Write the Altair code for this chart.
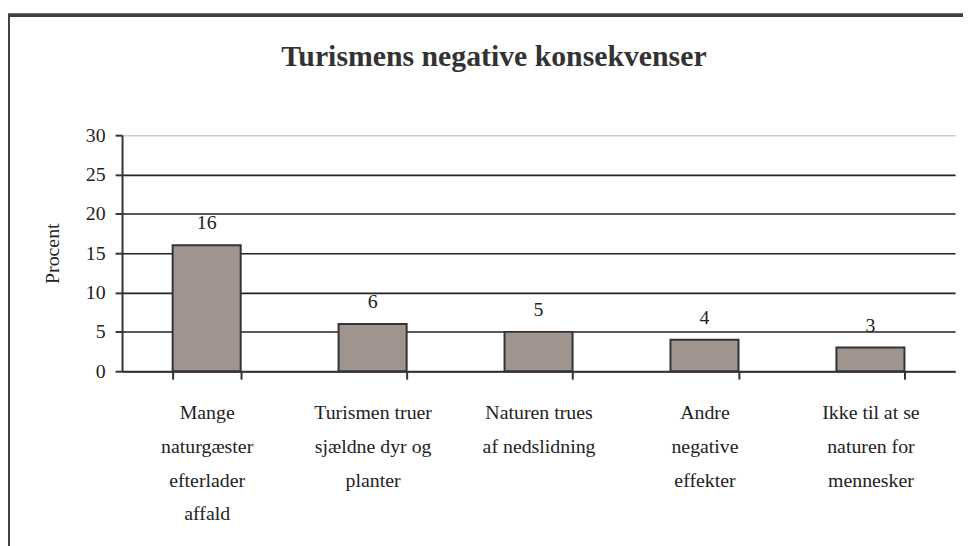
import altair as alt
import pandas as pd

categories = [
    "Mange naturgæster efterlader affald",
    "Turismen truer sjældne dyr og planter",
    "Naturen trues af nedslidning",
    "Andre negative effekter",
    "Ikke til at se naturen for mennesker",
]
label_lines = [
    ["Mange", "naturgæster", "efterlader", "affald"],
    ["Turismen truer", "sjældne dyr og", "planter"],
    ["Naturen trues", "af nedslidning"],
    ["Andre", "negative", "effekter"],
    ["Ikke til at se", "naturen for", "mennesker"],
]
values = [16, 6, 5, 4, 3]
y_ticks = [0, 5, 10, 15, 20, 25, 30]

df = pd.DataFrame({"cat": categories, "val": values})

label_map = {c: l for c, l in zip(categories, label_lines)}
label_expr = "{" + ",".join(f'"{c}": {l!r}'.replace("'", '"') for c, l in label_map.items()) + "}[datum.value]"

FONT = "Liberation Serif"

x = alt.X(
    "cat:N",
    sort=categories,
    title=None,
    scale=alt.Scale(paddingInner=0.59, paddingOuter=0.305),
    axis=alt.Axis(
        labelExpr=label_expr,
        labelAngle=0,
        labelFont=FONT,
        labelFontSize=20,
        labelColor="#222222",
        labelLineHeight=34,
        labelPadding=34,
        labelBaseline="middle",
        labelLimit=300,
        tickBand="extent",
        tickSize=8,
        tickWidth=2,
        tickColor="#333333",
        domainColor="#333333",
        domainWidth=2,
        grid=False,
    ),
)

y = alt.Y(
    "val:Q",
    title="Procent",
    scale=alt.Scale(domain=[0, 30], nice=False),
    axis=alt.Axis(
        values=y_ticks,
        labelFont=FONT,
        labelFontSize=20,
        labelColor="#222222",
        labelPadding=10,
        titleFont=FONT,
        titleFontSize=20,
        titleFontWeight="normal",
        titleColor="#222222",
        titlePadding=23,
        tickSize=7,
        tickWidth=2,
        tickColor="#333333",
        domainColor="#333333",
        domainWidth=2,
        grid=True,
        gridColor={"condition": {"test": "datum.value == 30", "value": "#cccccc"}, "value": "#222222"},
        gridWidth=1.6,
    ),
)

base = alt.Chart(df).encode(x=x, y=y)

bars = base.mark_bar(color="#A0948F", stroke="#333333", strokeWidth=2)

text = base.mark_text(
    dy=-22, font=FONT, fontSize=20, color="#222222"
).encode(text="val:Q")

frame_left = alt.Chart(df).mark_rule(color="#404040", strokeWidth=3).encode(
    x=alt.value(-115), y=alt.value(-121), y2=alt.value(500)
)
frame_top = alt.Chart(df).mark_rule(color="#404040", strokeWidth=3).encode(
    x=alt.value(-116), x2=alt.value(900), y=alt.value(-121)
)

chart = alt.layer(bars, text, frame_left, frame_top).properties(
    width=840,
    height=238,
    autosize=alt.AutoSizeParams(type="none"),
    padding={"left": 115, "top": 126, "right": 8, "bottom": 174},
    title=alt.TitleParams(
        "Turismens negative konsekvenser",
        font=FONT,
        fontSize=30,
        fontWeight="bold",
        color="#333333",
        anchor="middle",
        offset=-59,
        dx=-45,
    ),
).configure_view(stroke=None)

chart.save("out.html", embed_options={"renderer": "svg", "actions": False})
